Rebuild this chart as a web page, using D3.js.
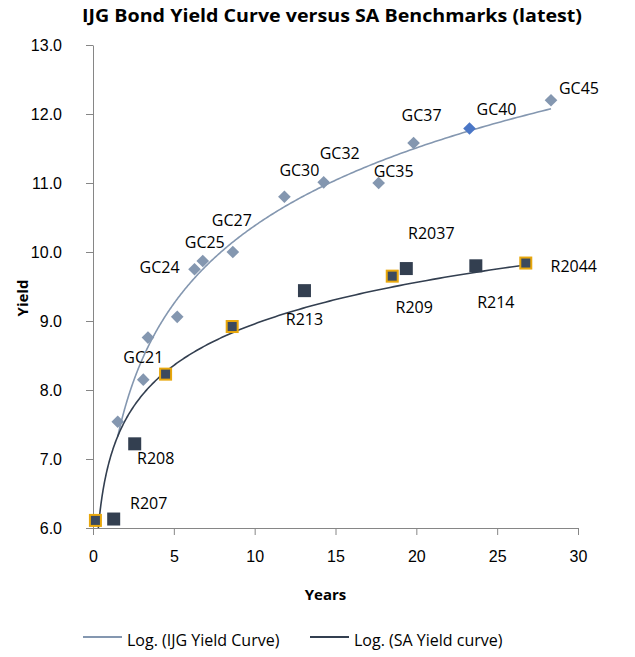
<!DOCTYPE html>
<html>
<head>
<meta charset="utf-8">
<script src="https://cdn.jsdelivr.net/npm/d3@7"></script>
<style>
  body { margin: 0; background: #fff; }
  svg { font-family: 'Open Sans', 'Liberation Sans', sans-serif; }
</style>
</head>
<body>
<div id="chart"></div>
<script>
const WIDTH = 635
const HEIGHT = 657
const margin = { top: 45, right: 57, bottom: 129, left: 93 }

// IJG bonds (diamonds)
const ijgNames = ['', 'GC21', '', '', 'GC24', 'GC25', 'GC27', 'GC30', 'GC32', 'GC35', 'GC37', 'GC40', 'GC45']
const ijgYears = [1.53, 3.11, 3.40, 5.21, 6.28, 6.79, 8.65, 11.84, 14.27, 17.67, 19.83, 23.29, 28.33]
const ijgYields = [7.54, 8.15, 8.76, 9.06, 9.75, 9.87, 10.00, 10.80, 11.01, 11.00, 11.58, 11.79, 12.20]

// SA benchmarks (squares)
const saNames = ['', 'R207', 'R208', '', '', 'R213', 'R209', 'R2037', 'R214', 'R2044']
const saYears = [0.15, 1.28, 2.58, 4.49, 8.61, 13.08, 18.51, 19.38, 23.68, 26.77]
const saYields = [6.11, 6.13, 7.22, 8.23, 8.92, 9.44, 9.65, 9.76, 9.80, 9.84]
const saFramed = [true, false, false, true, true, false, true, false, false, true]

const xTicks = [0, 5, 10, 15, 20, 25, 30]
const yTicks = [6, 7, 8, 9, 10, 11, 12, 13]

// label placement relative to the marker (px)
const labelOffset = {
  GC21: [0, -22], GC24: [-35, -2], GC25: [2, -19], GC27: [-1, -32], GC30: [15, -26],
  GC32: [16, -29], GC35: [15, -12], GC37: [8, -28], GC40: [27, -19], GC45: [28, -12],
  R207: [35, -16], R208: [21, 15], R213: [0, 29], R209: [22, 31], R2037: [25, -35],
  R214: [20, 37], R2044: [48, 3]
}

const IJG_COLOR = '#8497b0'
const GC40_COLOR = '#4a76c6'
const SA_COLOR = '#333f50'
const GOLD = '#e8a70c'
const AXIS_COLOR = '#868686'

const w = WIDTH - margin.left - margin.right
const h = HEIGHT - margin.top - margin.bottom

const svg = d3.select('#chart').append('svg')
  .attr('width', WIDTH)
  .attr('height', HEIGHT)

const g = svg.append('g')
  .attr('transform', `translate(${margin.left},${margin.top})`)

const x = d3.scaleLinear().domain([0, 30]).range([0, w])
const y = d3.scaleLinear().domain([6, 13]).range([h, 0])

// least squares fit y = a + b ln(x), like an Excel log trendline
function logFit (xs, ys) {
  const ls = xs.map(v => Math.log(v))
  const ml = d3.mean(ls)
  const my = d3.mean(ys)
  let sxy = 0
  let sxx = 0
  ls.forEach((l, i) => {
    sxy += (l - ml) * (ys[i] - my)
    sxx += (l - ml) * (l - ml)
  })
  const b = sxy / sxx
  return { a: my - b * ml, b }
}

function trendPoints (xs, ys) {
  const fit = logFit(xs, ys)
  const x0 = d3.min(xs)
  const x1 = d3.max(xs)
  const n = 300
  return d3.range(n + 1).map(i => {
    const t = x0 * Math.pow(x1 / x0, i / n)
    return [t, fit.a + fit.b * Math.log(t)]
  })
}

svg.append('defs').append('clipPath').attr('id', 'plot-clip')
  .append('rect').attr('width', w).attr('height', h)

// axes
const yAxis = g.append('g')
  .call(d3.axisLeft(y).tickValues(yTicks).tickFormat(d3.format('.1f')).tickSize(7).tickSizeOuter(0))
yAxis.select('.domain').attr('stroke', AXIS_COLOR)
yAxis.selectAll('.tick line').attr('stroke', AXIS_COLOR)
yAxis.selectAll('.tick text')
  .attr('x', -31)
  .attr('dy', '0.35em')
  .attr('fill', '#000')
  .style('font-size', '16px')

const xAxis = g.append('g')
  .attr('transform', `translate(0,${h})`)
  .call(d3.axisBottom(x).tickValues(xTicks).tickSize(7).tickSizeOuter(0))
xAxis.select('.domain').attr('stroke', AXIS_COLOR)
xAxis.selectAll('.tick line').attr('stroke', AXIS_COLOR)
xAxis.selectAll('.tick text')
  .attr('y', 28)
  .attr('dy', '0.35em')
  .attr('fill', '#000')
  .style('font-size', '16px')

// trendlines
const line = d3.line().x(d => x(d[0])).y(d => y(d[1]))
const trends = g.append('g').attr('clip-path', 'url(#plot-clip)')
trends.append('path')
  .datum(trendPoints(ijgYears, ijgYields))
  .attr('fill', 'none')
  .attr('stroke', IJG_COLOR)
  .attr('stroke-width', 1.6)
  .attr('d', line)
trends.append('path')
  .datum(trendPoints(saYears, saYields))
  .attr('fill', 'none')
  .attr('stroke', SA_COLOR)
  .attr('stroke-width', 1.6)
  .attr('d', line)

// SA squares
const saData = saYears.map((v, i) => ({ name: saNames[i], x: v, y: saYields[i], framed: saFramed[i] }))
g.selectAll('rect.sa')
  .data(saData)
  .join('rect')
  .attr('class', 'sa')
  .attr('x', d => x(d.x) - (d.framed ? 5.5 : 6.5))
  .attr('y', d => y(d.y) - (d.framed ? 5.5 : 6.5))
  .attr('width', d => d.framed ? 11 : 13)
  .attr('height', d => d.framed ? 11 : 13)
  .attr('fill', d => d.framed ? '#3b4a5e' : SA_COLOR)
  .attr('stroke', d => d.framed ? GOLD : 'none')
  .attr('stroke-width', 2)

// IJG diamonds
const ijgData = ijgYears.map((v, i) => ({ name: ijgNames[i], x: v, y: ijgYields[i] }))
const diamond = d3.symbol().type(d3.symbolSquare).size(80)
g.selectAll('path.ijg')
  .data(ijgData)
  .join('path')
  .attr('class', 'ijg')
  .attr('transform', d => `translate(${x(d.x)},${y(d.y)}) rotate(45)`)
  .attr('d', diamond)
  .attr('fill', d => d.name === 'GC40' ? GC40_COLOR : IJG_COLOR)

// point labels
const labelled = ijgData.concat(saData).filter(d => d.name)
g.selectAll('text.lbl')
  .data(labelled)
  .join('text')
  .attr('class', 'lbl')
  .attr('x', d => x(d.x) + labelOffset[d.name][0])
  .attr('y', d => y(d.y) + labelOffset[d.name][1])
  .attr('text-anchor', 'middle')
  .attr('dy', '0.35em')
  .style('font-size', '16px')
  .text(d => d.name)

// titles
svg.append('text')
  .attr('x', 332)
  .attr('y', 22)
  .attr('text-anchor', 'middle')
  .attr('textLength', 500)
  .attr('lengthAdjust', 'spacingAndGlyphs')
  .style('font-size', '17px')
  .style('font-weight', 'bold')
  .text('IJG Bond  Yield Curve versus SA Benchmarks (latest)')

svg.append('text')
  .attr('x', margin.left + w / 2 - 10)
  .attr('y', 600)
  .attr('text-anchor', 'middle')
  .style('font-size', '15px')
  .style('font-weight', 'bold')
  .text('Years')

svg.append('text')
  .attr('transform', 'translate(28,298) rotate(-90)')
  .attr('text-anchor', 'middle')
  .style('font-size', '15px')
  .style('font-weight', 'bold')
  .text('Yield')

// legend
const legendItems = [
  { label: 'Log. (IJG Yield Curve)', color: IJG_COLOR, x: 83 },
  { label: 'Log. (SA Yield curve)', color: SA_COLOR, x: 310 }
]
const legend = svg.append('g')
legendItems.forEach(item => {
  legend.append('line')
    .attr('x1', item.x).attr('x2', item.x + 39)
    .attr('y1', 637).attr('y2', 637)
    .attr('stroke', item.color)
    .attr('stroke-width', 2)
  legend.append('text')
    .attr('x', item.x + 44)
    .attr('y', 640)
    .attr('dy', '0.35em')
    .style('font-size', '16px')
    .text(item.label)
})
</script>
</body>
</html>
